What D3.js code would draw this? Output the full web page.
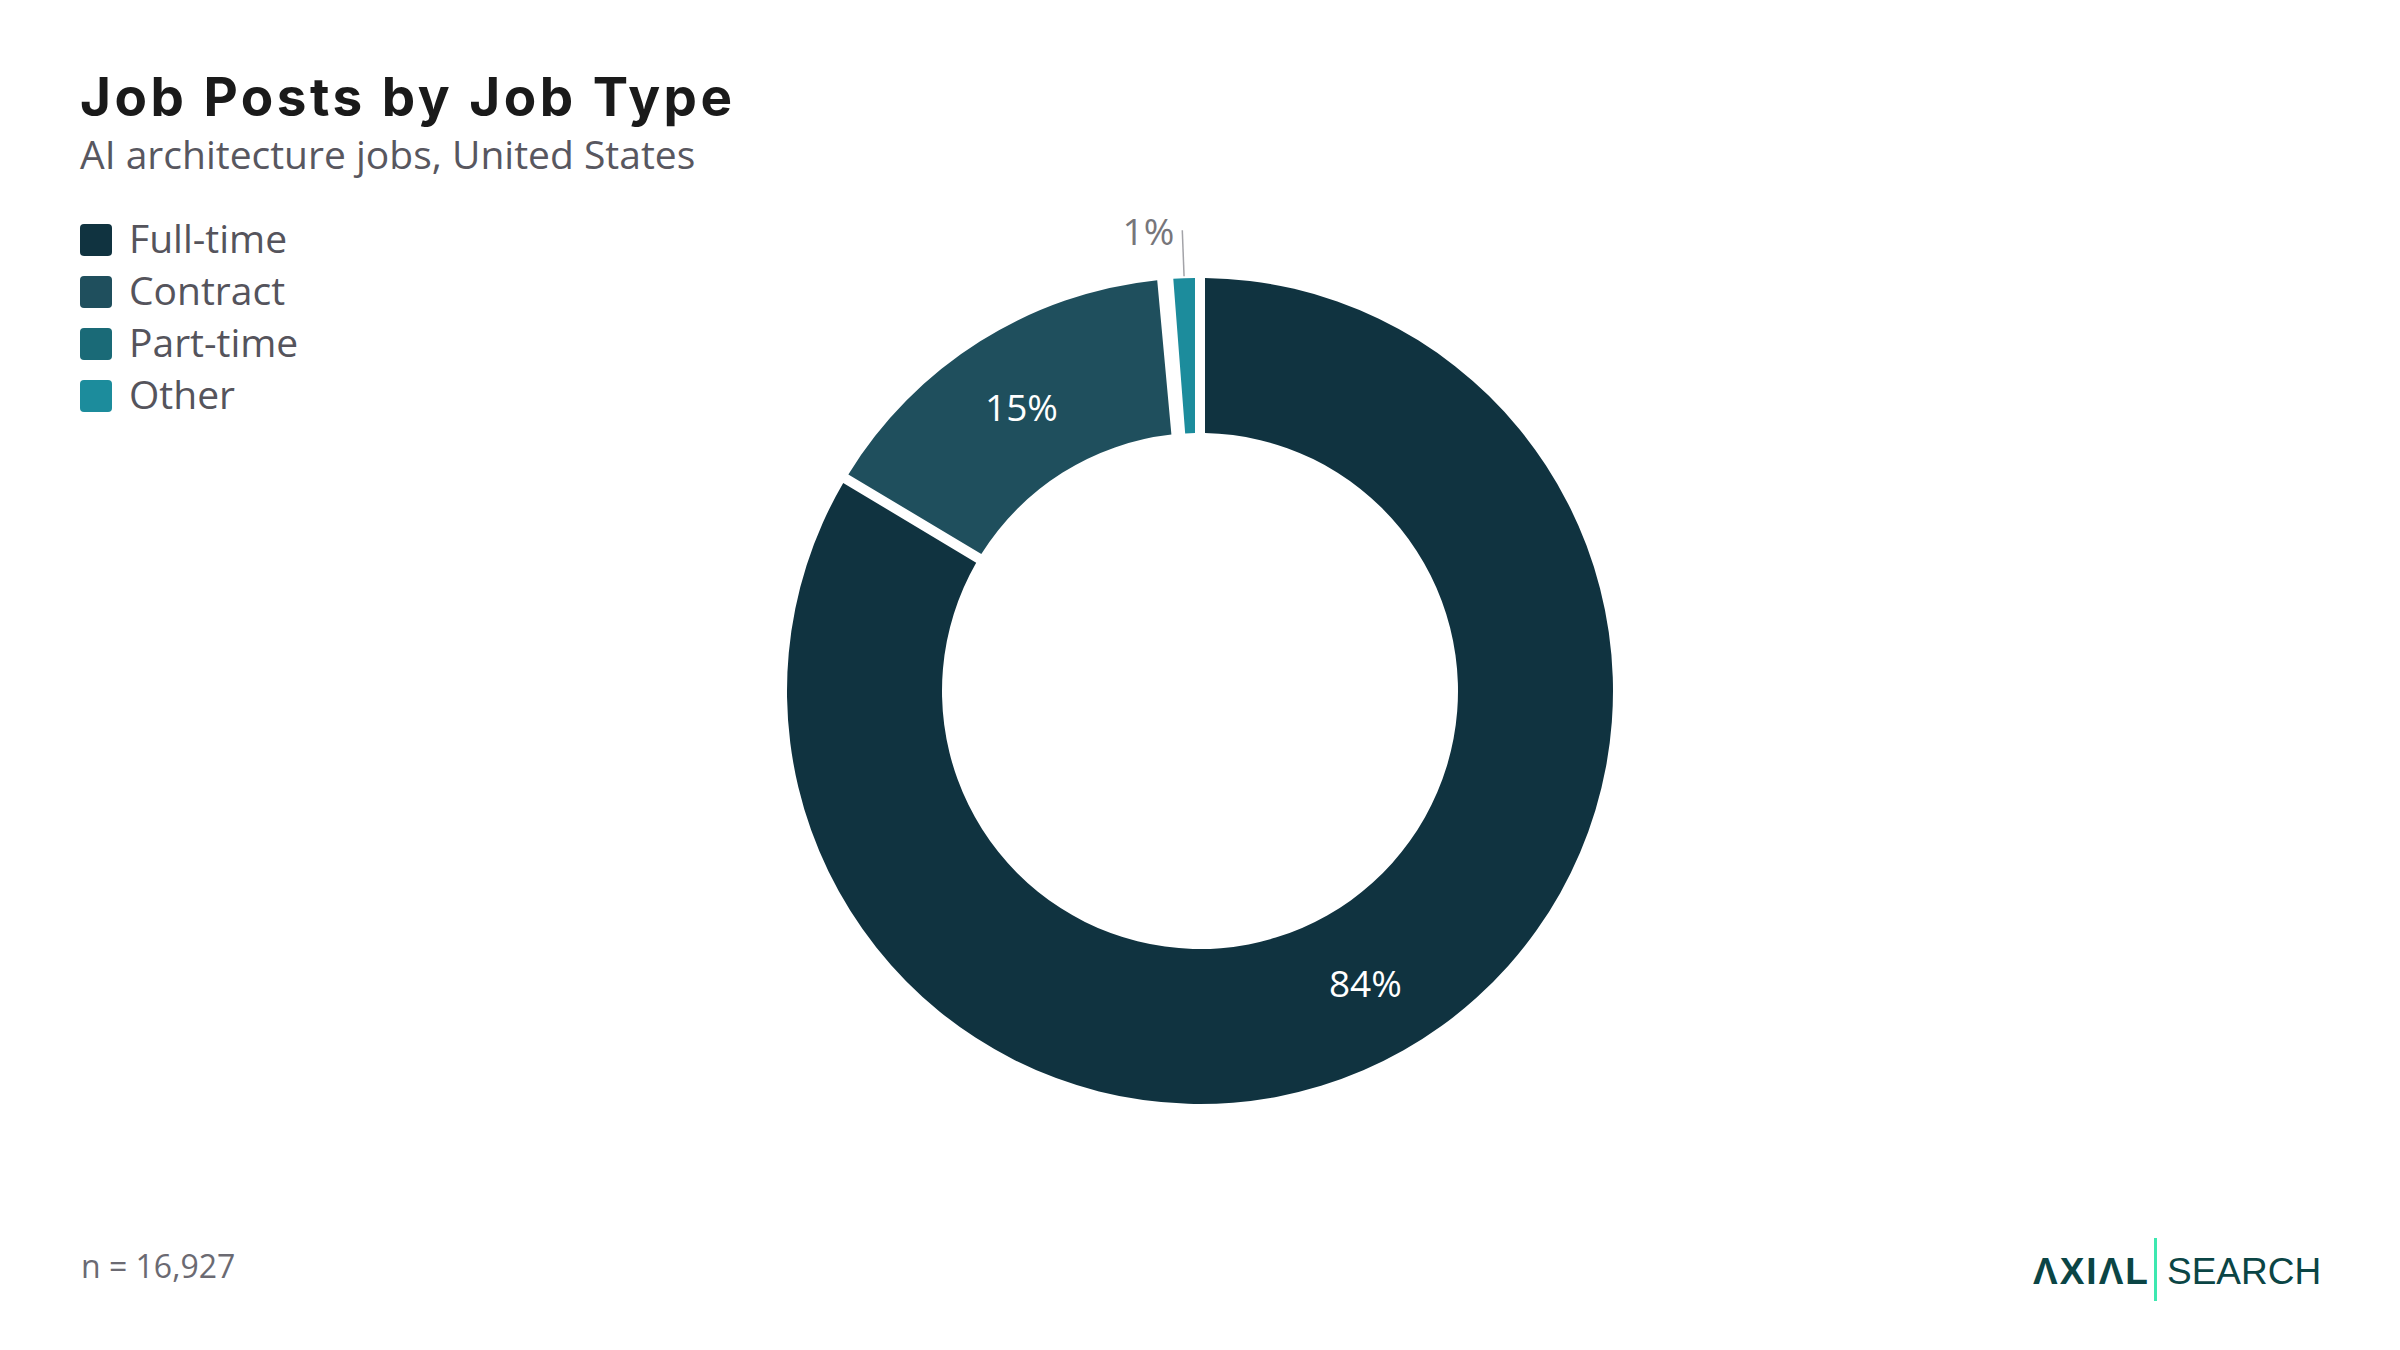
<!DOCTYPE html>
<html>
<head>
<meta charset="utf-8">
<script src="https://cdn.jsdelivr.net/npm/d3@7"></script>
<style>
  html, body { margin: 0; padding: 0; background: #ffffff; }
  svg { display: block; }
</style>
</head>
<body>
<svg id="chart" width="2400" height="1350"></svg>
<script>
// ---- Data ----
const categories = ["Full-time", "Contract", "Part-time", "Other"];
const counts = [14150, 2530, 40, 207];
const labels = ["84%", "15%", "", "1%"];
const colors = ["#103340", "#1f4f5d", "#1a6a77", "#1c8c9c"];
const totalLabel = "n = 16,927";
const titleText = "Job Posts by Job Type";
const subtitleText = "AI architecture jobs, United States";

const W = 2400, H = 1350;
const svg = d3.select("#chart");
svg.append("rect").attr("width", W).attr("height", H).attr("fill", "#ffffff");

const bodyFont = "'Open Sans', 'Noto Sans', sans-serif";

// Title & subtitle
svg.append("text")
  .attr("x", 80).attr("y", 116)
  .attr("font-family", "Inter, 'Noto Sans', sans-serif")
  .attr("font-weight", 700)
  .attr("font-size", 53)
  .attr("letter-spacing", 3.5)
  .attr("fill", "#1a1a1a")
  .text(titleText);

svg.append("text")
  .attr("x", 80).attr("y", 169)
  .attr("font-family", bodyFont)
  .attr("font-size", 39)
  .attr("fill", "#58575f")
  .text(subtitleText);

// Legend
const legend = svg.append("g").attr("transform", "translate(80,224)");
const lg = legend.selectAll("g").data(categories).join("g")
  .attr("transform", (d, i) => `translate(0,${i * 52})`);
lg.append("rect")
  .attr("width", 32).attr("height", 32).attr("rx", 4)
  .attr("fill", (d, i) => colors[i]);
lg.append("text")
  .attr("x", 49).attr("y", 13)
  .attr("dominant-baseline", "central")
  .attr("font-family", bodyFont)
  .attr("font-size", 39)
  .attr("fill", "#55545c")
  .text(d => d);

// Donut
const cx = 1200, cy = 691;
const outerR = 413, innerR = 258;
const pie = d3.pie().sort(null).value(d => d.value)
  .startAngle(0).endAngle(2 * Math.PI);
const data = categories.map((c, i) => ({ name: c, value: counts[i], label: labels[i], color: colors[i] }));
const arcs = pie(data);
const arc = d3.arc().innerRadius(innerR).outerRadius(outerR)
  .padRadius(outerR).padAngle(10 / outerR);

const g = svg.append("g").attr("transform", `translate(${cx},${cy})`);
g.selectAll("path").data(arcs).join("path")
  .attr("d", arc)
  .attr("fill", d => d.data.color);

// Inside labels for large slices
const midR = (innerR + outerR) / 2;
const labelArc = d3.arc().innerRadius(midR).outerRadius(midR);
g.selectAll("text.inside").data(arcs.filter(d => d.data.value / d3.sum(counts) > 0.05)).join("text")
  .attr("class", "inside")
  .attr("transform", d => `translate(${labelArc.centroid(d)})`)
  .attr("text-anchor", "middle")
  .attr("dominant-baseline", "central")
  .attr("font-family", bodyFont)
  .attr("font-size", 37)
  .attr("fill", "#ffffff")
  .text(d => d.data.label);

// Outside labels for small labelled slices
const small = arcs.filter(d => d.data.value / d3.sum(counts) <= 0.05 && d.data.label);
small.forEach(d => {
  const a = (d.startAngle + d.endAngle) / 2;
  const r1 = outerR + 2, r2 = outerR + 48;
  const x1 = r1 * Math.sin(a), y1 = -r1 * Math.cos(a);
  const x2 = r2 * Math.sin(a), y2 = -r2 * Math.cos(a);
  g.append("line")
    .attr("x1", x1).attr("y1", y1).attr("x2", x2).attr("y2", y2)
    .attr("stroke", "#a3a3a8").attr("stroke-width", 1.5);
  g.append("text")
    .attr("x", x2 - 8).attr("y", y2)
    .attr("text-anchor", "end")
    .attr("dominant-baseline", "central")
    .attr("font-family", bodyFont)
    .attr("font-size", 37)
    .attr("fill", "#77767b")
    .text(d.data.label);
});

// n label
svg.append("text")
  .attr("x", 81).attr("y", 1278)
  .attr("font-family", bodyFont)
  .attr("font-size", 32)
  .attr("fill", "#6b6a72")
  .text(totalLabel);

// Logo
const logo = svg.append("g");
logo.append("text")
  .attr("x", 2033).attr("y", 1284)
  .attr("font-family", "'Liberation Sans', Arial, sans-serif")
  .attr("font-weight", 700)
  .attr("font-size", 37)
  .attr("letter-spacing", 2)
  .attr("fill", "#0b4545")
  .text("ΛXIΛL");
logo.append("rect")
  .attr("x", 2154).attr("y", 1238).attr("width", 3).attr("height", 63)
  .attr("fill", "#3ee8b0");
logo.append("text")
  .attr("x", 2167).attr("y", 1284)
  .attr("font-family", "'Liberation Sans', Arial, sans-serif")
  .attr("font-size", 37)
  .attr("fill", "#0b4545")
  .text("SEARCH");
</script>
</body>
</html>
